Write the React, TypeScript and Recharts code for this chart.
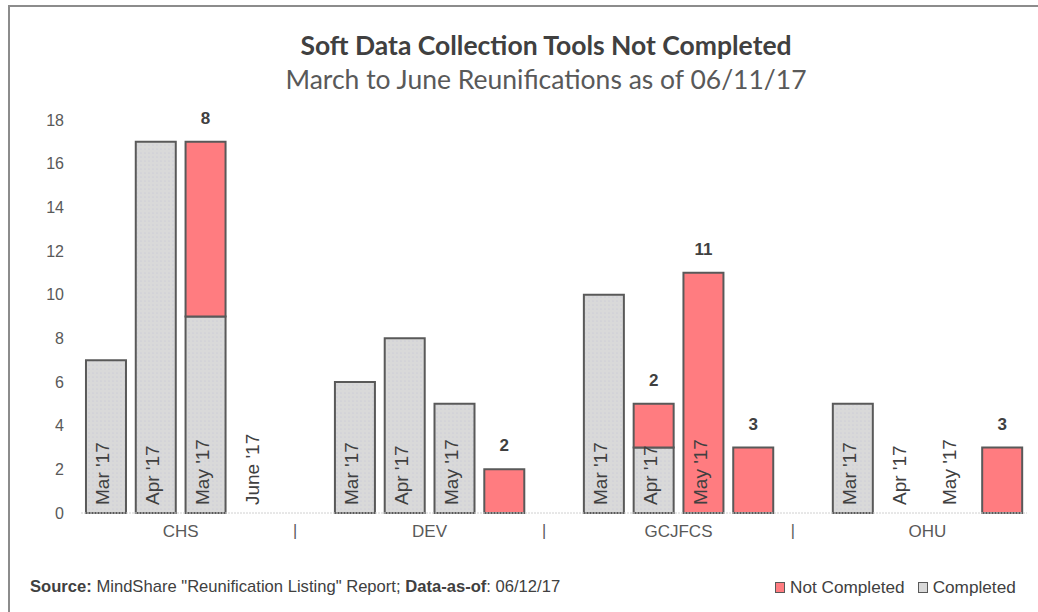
import { BarChart, Bar, XAxis, YAxis, LabelList } from 'recharts'

const groups = ['CHS', 'DEV', 'GCJFCS', 'OHU']
const months = ["Mar '17", "Apr '17", "May '17", "June '17"]
const completed = [
  [7, 17, 9, 0],
  [6, 8, 5, 0],
  [10, 3, 0, 0],
  [5, 0, 0, 0],
]
const notCompleted = [
  [0, 0, 8, 0],
  [0, 0, 0, 2],
  [0, 2, 11, 3],
  [0, 0, 0, 3],
]
// which month labels Excel printed inside the columns
const showMonth = [
  [true, true, true, true],
  [true, true, true, false],
  [true, true, true, false],
  [true, true, true, false],
]
const yTicks = [0, 2, 4, 6, 8, 10, 12, 14, 16, 18]

type Row = {
  key: string
  month: string | null
  group: string
  completed: number
  notCompleted: number
  showGroup: boolean
  gap: boolean
}

const rows: Row[] = []
groups.forEach((g, gi) => {
  months.forEach((m, mi) => {
    rows.push({
      key: `${g}-${mi}`,
      month: showMonth[gi][mi] ? m : null,
      group: g,
      completed: completed[gi][mi],
      notCompleted: notCompleted[gi][mi],
      showGroup: mi === 1,
      gap: false,
    })
  })
  if (gi < groups.length - 1) {
    rows.push({ key: `gap-${gi}`, month: null, group: '', completed: 0, notCompleted: 0, showGroup: false, gap: true })
  }
})

const W = 1038
const H = 612
const PLOT_LEFT = 81
const PLOT_RIGHT = 1027
const AXIS_Y = 513
const BAND = (PLOT_RIGHT - PLOT_LEFT) / rows.length
const AXIS_FONT = '"Liberation Sans", Arial, sans-serif'
const TITLE_FONT = 'Lato, "Open Sans", sans-serif'
const RED = '#ff7c80'
const EDGE = '#595959'

const ValueLabel = (props: any) => {
  const { x, y, width, value } = props
  if (!value) return null
  return (
    <text
      x={x + width / 2}
      y={y - 18}
      textAnchor="middle"
      fontFamily={AXIS_FONT}
      fontSize={17}
      fontWeight="bold"
      fill="#404040"
    >
      {value}
    </text>
  )
}

// category tick: month label inside the column, group name / separator below the axis
const CategoryTick = (props: any) => {
  const { x, index } = props
  const row = rows[index]
  if (!row) return null
  if (row.gap) {
    return (
      <text x={x - 10} y={AXIS_Y + 17} textAnchor="middle" dominantBaseline="central" fontFamily={AXIS_FONT} fontSize={16} fill="#595959">
        |
      </text>
    )
  }
  const cx = x - 3
  const by = AXIS_Y - 8
  return (
    <g>
      {row.month && (
        <text
          x={cx}
          y={by}
          transform={`rotate(-90, ${cx}, ${by})`}
          textAnchor="start"
          dominantBaseline="central"
          fontFamily={AXIS_FONT}
          fontSize={19}
          fill="#404040"
        >
          {row.month}
        </text>
      )}
      {row.showGroup && (
        <text x={x + BAND / 2} y={AXIS_Y + 18} textAnchor="middle" dominantBaseline="central" fontFamily={AXIS_FONT} fontSize={17} fill="#595959">
          {row.group}
        </text>
      )}
    </g>
  )
}

export default function App() {
  return (
    <div style={{ position: 'fixed', left: 0, top: 0, width: W, height: H, background: '#fff', overflow: 'hidden' }}>
      <div style={{ position: 'absolute', left: 8, top: 5, width: W, height: H, borderLeft: '2px solid #8c8c8c', borderTop: '2px solid #8c8c8c' }} />
      <div style={{ position: 'absolute', left: 0, top: 29, width: 1092, textAlign: 'center', fontFamily: TITLE_FONT, fontSize: 26.5, fontWeight: 'bold', color: '#404040', lineHeight: '32px' }}>
        Soft Data Collection Tools Not Completed
      </div>
      <div style={{ position: 'absolute', left: 0, top: 62, width: 1092, textAlign: 'center', fontFamily: TITLE_FONT, fontSize: 26.5, color: '#595959', lineHeight: '34px' }}>
        March to June Reunifications as of 06/11/17
      </div>
      <BarChart
        width={W}
        height={H}
        data={rows}
        barCategoryGap="10%"
        margin={{ top: 120, right: W - PLOT_RIGHT, left: 21, bottom: H - AXIS_Y - 30 }}
        style={{ position: 'absolute', left: 0, top: 0 }}
      >
        <defs>
          <pattern id="dots" width="4" height="4" patternUnits="userSpaceOnUse">
            <rect width="4" height="4" fill="#d9d9d9" />
            <circle cx="1" cy="1" r="0.6" fill="#c2c2d6" />
          </pattern>
        </defs>
        <YAxis
          width={60}
          domain={[0, 18]}
          ticks={yTicks}
          axisLine={false}
          tickLine={false}
          tickMargin={11}
          tick={{ fontSize: 16, fill: '#595959', fontFamily: AXIS_FONT }}
        />
        <Bar dataKey="completed" stackId="a" fill="url(#dots)" stroke={EDGE} strokeWidth={2} isAnimationActive={false} />
        <Bar dataKey="notCompleted" stackId="a" fill={RED} stroke={EDGE} strokeWidth={2} isAnimationActive={false}>
          <LabelList dataKey="notCompleted" content={<ValueLabel />} />
        </Bar>
        <XAxis
          dataKey="key"
          height={30}
          interval={0}
          tickLine={false}
          axisLine={{ stroke: '#d0d0d0', strokeDasharray: '2 1' }}
          tick={<CategoryTick />}
        />
      </BarChart>
      <div style={{ position: 'absolute', left: 30, top: 577, fontFamily: AXIS_FONT, fontSize: 16.6, color: '#404040', whiteSpace: 'nowrap' }}>
        <b>Source:</b> MindShare "Reunification Listing" Report; <b>Data-as-of</b>: 06/12/17
      </div>
      <div style={{ position: 'absolute', left: 775, top: 577, fontFamily: AXIS_FONT, fontSize: 17.2, color: '#404040', whiteSpace: 'nowrap', display: 'flex', alignItems: 'center' }}>
        <span style={{ display: 'inline-block', width: 8, height: 9, background: RED, border: '1px solid #595959', marginRight: 5 }} />
        <span>Not Completed</span>
        <span style={{ display: 'inline-block', width: 8, height: 9, background: '#d9d9d9', border: '1px solid #595959', marginLeft: 13, marginRight: 5 }} />
        <span>Completed</span>
      </div>
    </div>
  )
}
